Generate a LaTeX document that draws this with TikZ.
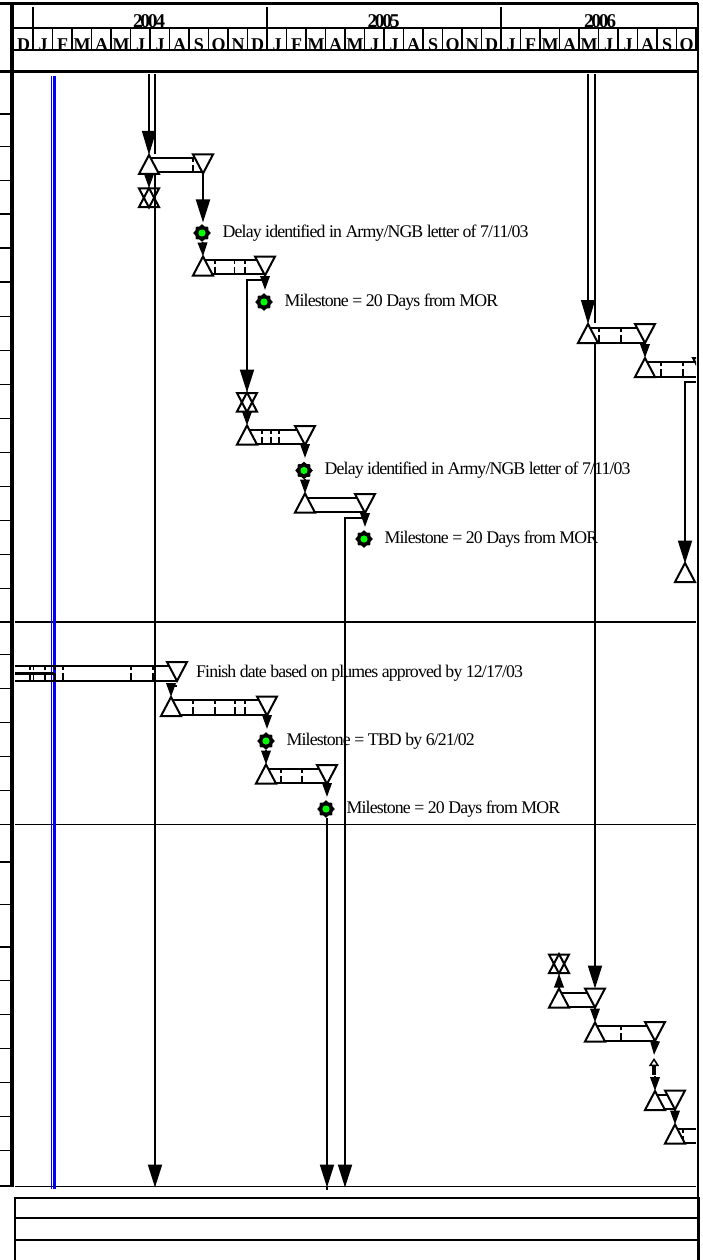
\documentclass[tikz,border=0pt]{standalone}
\usepackage{fontspec}
\setmainfont{Liberation Serif}
\newfontfamily\tightfont[LetterSpace=-5]{Liberation Serif}
\newfontfamily\yearfont[LetterSpace=-12]{Liberation Serif Bold}
\newfontfamily\monthfont[LetterSpace=0]{Liberation Serif Bold}
\usetikzlibrary{arrows.meta,shapes.geometric,positioning}

\tikzset{
	frameline/.style={line width=2.4pt},
	thinline/.style={line width=1.2pt},
	barline/.style={line width=2pt},
	tickline/.style={line width=1.5pt,dash pattern=on 4pt off 3pt on 7pt},
	bigarrow/.style={line width=2pt,-{Triangle[length=23pt,width=14pt]},shorten >=-0.5pt},
	smallarrow/.style={line width=2pt,-{Triangle[length=14pt,width=9.5pt]}},
	upmark/.style={draw,line width=2pt,fill=white,isosceles triangle,isosceles triangle stretches,shape border rotate=90,
		minimum width=20pt,minimum height=19pt,inner sep=0pt,outer sep=0pt,anchor=apex},
	downmark/.style={upmark,shape border rotate=270},
	milestone/.style={star,star points=8,star point ratio=1.25,fill=black,minimum size=17.5pt,inner sep=0pt,
		path picture={\fill[green] (path picture bounding box.center) circle (3.6pt);}},
	note/.style={font=\tightfont\fontsize{17.8}{18}\selectfont,inner sep=0pt,anchor=west},
}

% two bar edges and the slips on them: x from, x to, top y, slips
\newcommand{\ganttbar}[4]{
	\draw[barline] (#1,#3) -- (#2,#3);
	\draw[barline] (#1,#3+14.5) -- (#2,#3+14.5);
	\foreach \slip in {#4} {
		\draw[tickline] (\slip,#3) -- (\slip,#3+14.5);
	}
}

\begin{document}
\begin{tikzpicture}[x=1pt,y=-1pt]
	\useasboundingbox (0,0) rectangle (702,1260);
	\colorlet{statusblue}{blue}

	% ---------- Header ----------
	\draw[frameline] (0,3.5) -- (698,3.5);
	\draw[frameline] (14,28) -- (697,28);
	\draw[frameline] (14,50) -- (697,50);
	\draw[frameline] (0,71.5) -- (697,71.5);
	\foreach \x in {33,267,501} {
		\draw[thinline] (\x,7) -- (\x,28);
	}
	\foreach \x/\year in {149/2004,383.5/2005,600/2006} {
		\node[font=\yearfont\fontsize{19.5}{20}\selectfont,inner sep=0pt,anchor=base] (y\year) at (\x,27.5) {\year};
	}

	% months, cut off by the line below them
	\begin{scope}
		\clip (14,29) rectangle (697,49.2);
		\foreach \m [count=\i from 0] in {D,J,F,M,A,M,J,J,A,S,O,N,D,J,F,M,A,M,J,J,A,S,O,N,D,J,F,M,A,M,J,J,A,S,O} {
			\node[font=\monthfont\fontsize{18}{18}\selectfont,inner sep=0pt,anchor=base] (mon\i) at (23.5+19.5*\i,50.5) {\m};
		}
	\end{scope}
	\foreach \i in {0,...,35} {
		\draw[thinline] (14+19.5*\i-0.5,28) -- (14+19.5*\i-0.5,50);
	}

	% ---------- Frame ----------
	\draw[line width=4pt] (12,4) -- (12,1186);
	\draw[line width=2pt] (0,1186) -- (14,1186);
	\draw[line width=1.8pt] (698,3) -- (698,1198);
	\draw[line width=3.5pt] (698.5,1197) -- (698.5,1260);
	\foreach \y in {114,146.5,180.5,214,248,282,316.5,350.5,384.5,418.5,452.5,486.5,520.5,554.5,588.5,622,654.5,688.5,722.5,756.5,790.5,824.5,862,904.5,947,980.5,1014.5,1048.5,1082.5,1116.5,1150.5} {
		\draw[thinline] (0,\y) -- (10,\y);
	}
	\foreach \y in {622,824.5,1186.5} {
		\draw[thinline] (15,\y) -- (696,\y);
	}

	% footer
	\draw[frameline] (15,1260) -- (15,1198) -- (697,1198);
	\draw[frameline] (15,1218) -- (697,1218);
	\draw[frameline] (15,1240) -- (697,1240);

	% status line
	\draw[statusblue,line width=0.8pt] (51.5,76) -- (51.5,1189);
	\draw[statusblue,line width=3pt] (54.3,76) -- (54.3,1189);

	% ---------- Bars, left group ----------
	\ganttbar{149}{203}{158}{193}
	\ganttbar{203}{265}{259.5}{215,234.5,245}
	\ganttbar{247}{305}{429.5}{262,271,279}
	\ganttbar{305}{365}{497.5}{}
	\ganttbar{15}{177}{666}{30,33.5,45,55,63,131,153}
	\draw[line width=3.5pt] (15,673.5) -- (54,673.5);
	\ganttbar{171}{267}{700}{193,215,235,245}
	\ganttbar{266}{327}{768.5}{281,302}

	\node[upmark] (t1) at (149,155) {};
	\node[downmark] (f1) at (203,173.5) {};
	\node[downmark] (h1a) at (149,207.5) {};
	\node[upmark,fill=none] (h1b) at (149,188) {};
	\node[upmark] (t2) at (203,256.5) {};
	\node[downmark] (f2) at (265,275.5) {};
	\node[downmark] (h2a) at (247,412) {};
	\node[upmark,fill=none] (h2b) at (247,392.5) {};
	\node[upmark] (t3) at (247,425.5) {};
	\node[downmark] (f3) at (305,445) {};
	\node[upmark] (t4) at (305,493.5) {};
	\node[downmark] (f4) at (365,513) {};
	\node[downmark] (f5) at (177,681) {};
	\node[upmark] (t6) at (171,697) {};
	\node[downmark] (f6) at (267,715.5) {};
	\node[upmark] (t7) at (266,764.5) {};
	\node[downmark] (f7) at (327,784) {};

	% milestones and their notes
	\node[milestone] (m1) at (202,233) {};
	\node[note,right=11.5pt of m1] (n1) {Delay identified in Army/NGB letter of 7/11/03};
	\node[milestone] (m2) at (264,302) {};
	\node[note,right=11.5pt of m2] (n2) {Milestone = 20 Days from MOR};
	\node[milestone] (m3) at (304,470.5) {};
	\node[note,right=11.5pt of m3] (n3) {Delay identified in Army/NGB letter of 7/11/03};
	\node[milestone] (m4) at (364,539) {};
	\node[note,right=11.5pt of m4] (n4) {Milestone = 20 Days from MOR};
	\node[note] (n5) at (196,673.5) {Finish date based on plumes approved by 12/17/03};
	\node[milestone] (m6) at (266,741) {};
	\node[note,right=11.5pt of m6] (n6) {Milestone = TBD by 6/21/02};
	\node[milestone] (m7) at (326,809) {};
	\node[note,right=11.5pt of m7] (n7) {Milestone = 20 Days from MOR};

	% links
	\coordinate (in1) at (149,74);
	\coordinate (in2) at (155,74);
	\coordinate (out1) at (155,1187);
	\coordinate (out2) at (327,1187);
	\coordinate (out3) at (345,1187);
	\draw[line width=1.2pt,-{Triangle[length=24pt,width=14pt]}] (in1) -- (t1.apex);
	\draw[barline] (in2) -- (155,154);
	\draw[bigarrow] (155,174) -- (out1);
	\draw[smallarrow] (t1.lower side) -- (h1b.apex);
	\draw[bigarrow] (f1.apex) -- (203,222);
	\draw[smallarrow] (202.5,242) -- (t2.apex);
	\draw[smallarrow] (f2.apex) -- (265,290);
	\draw[bigarrow] (265,280) -| (247,392);
	\draw[smallarrow] (247,413) -- (t3.apex);
	\draw[smallarrow] (f3.apex) -- (305,458);
	\draw[smallarrow] (305,479) -- (t4.apex);
	\draw[smallarrow] (f4.apex) -- (365,527);
	\draw[bigarrow] (365,517.5) -| (out3);
	\draw[barline] (177,685.5) -- (171,685.5);
	\draw[smallarrow] (171,683) -- (t6.apex);
	\draw[smallarrow] (f6.apex) -- (267,729);
	\draw[smallarrow] (266,750) -- (t7.apex);
	\draw[smallarrow] (f7.apex) -- (327,797);
	\draw[bigarrow] (327,818) -- (out2);
	\draw[barline] (327,1186) -- (327,1190);

	% ---------- Bars, right group ----------
	\ganttbar{588}{645}{328}{599,621}
	\ganttbar{645}{696}{362}{661,683}
	\ganttbar{559}{595}{992.5}{}
	\ganttbar{595}{655}{1026}{621}
	\ganttbar{655}{675}{1094.5}{}
	\ganttbar{675}{696}{1128.5}{683}

	\node[upmark] (t8) at (588,324) {};
	\node[downmark] (f8) at (645,343) {};
	\node[upmark] (t9) at (645,358) {};
	\node[upmark] (t10) at (685,563) {};
	\node[downmark] (h3a) at (559,973.5) {};
	\node[upmark,fill=none] (h3b) at (559,954) {};
	\node[upmark] (t11) at (559,988.5) {};
	\node[downmark] (f11) at (595,1007.5) {};
	\node[upmark] (t12) at (595,1022.5) {};
	\node[downmark] (f12) at (655,1041) {};
	\node[upmark] (t13) at (655,1091) {};
	\node[downmark] (f13) at (675,1109.5) {};
	\node[upmark] (t14) at (675,1124.5) {};
	\begin{scope}
		\clip (680,350) rectangle (696,375);
		\node[downmark] (f9) at (703,377) {};
	\end{scope}

	\coordinate (in3) at (588,74);
	\coordinate (in4) at (595,74);
	\draw[line width=1.2pt,-{Triangle[length=24pt,width=14pt]}] (in3) -- (t8.apex);
	\draw[barline] (in4) -- (595,323);
	\draw[bigarrow] (595,343) -- (595,988);
	\draw[smallarrow] (f8.apex) -- (t9.apex);
	\draw[bigarrow] (696,382) -| (t10.apex);
	\draw[smallarrow] (t11.apex) -- (h3a.apex);
	\draw[smallarrow] (f11.apex) -- (t12.apex);
	\draw[smallarrow] (f12.apex) -- (654,1055);
	\draw[line width=3.5pt,-{Triangle[open,fill=white,length=8pt,width=10pt,line width=1.5pt]}] (654,1075) -- (654,1058);
	\draw[smallarrow] (655,1076) -- (t13.apex);
	\draw[smallarrow] (f13.apex) -- (t14.apex);
\end{tikzpicture}
\end{document}
